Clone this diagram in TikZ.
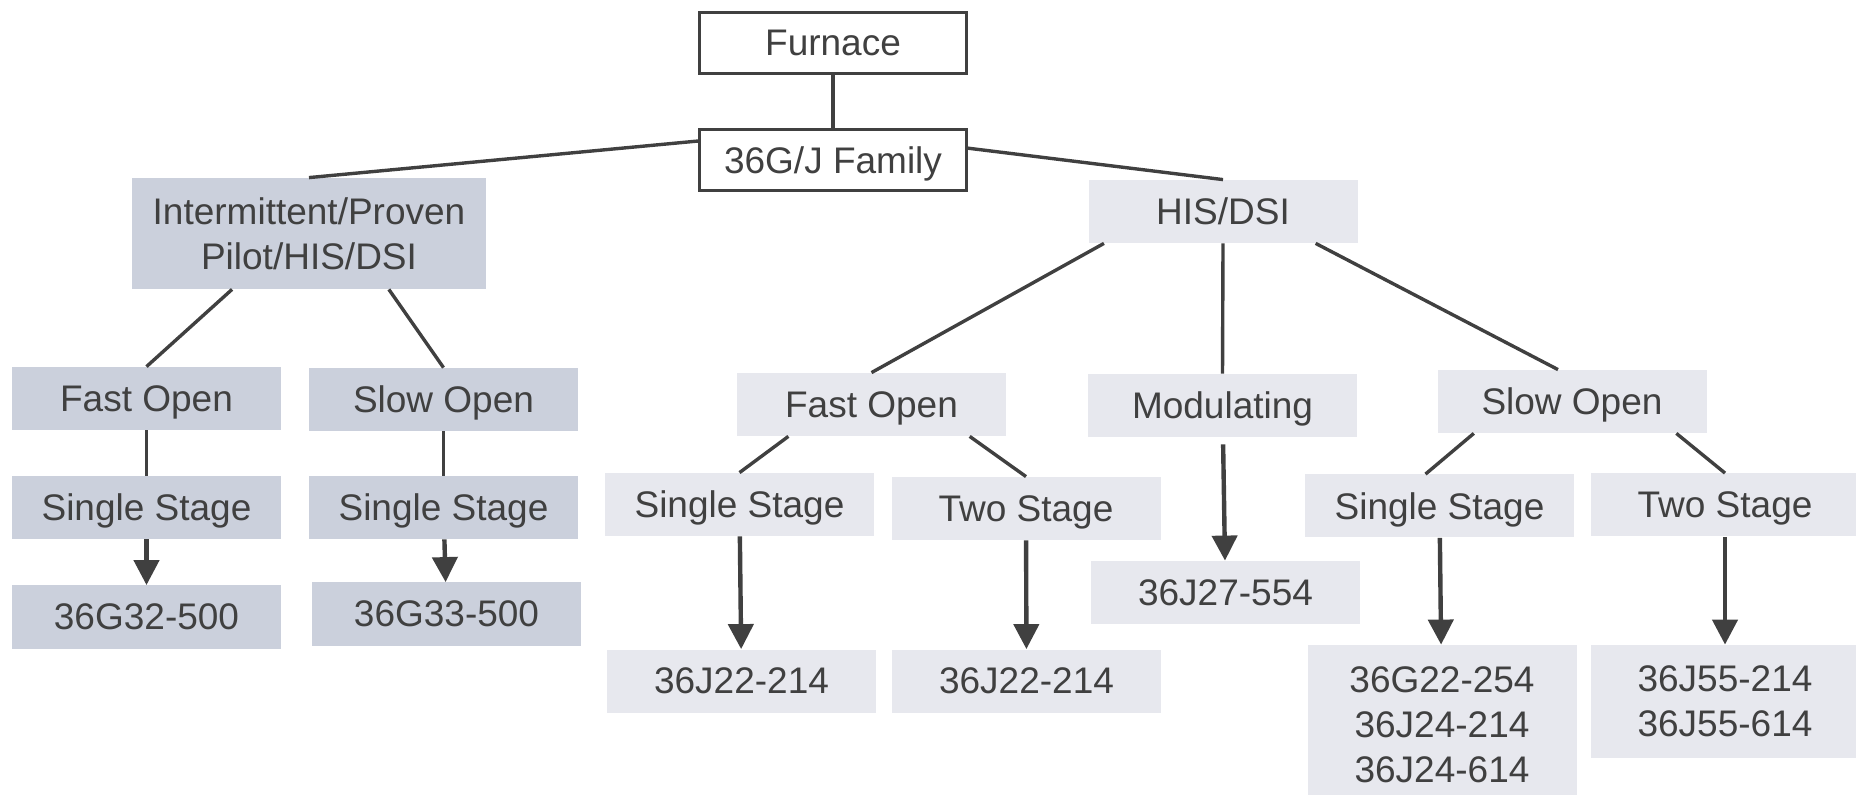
\documentclass[tikz,border=0pt]{standalone}
\usepackage{fontspec}
\setmainfont{Liberation Sans}
\usetikzlibrary{arrows.meta}
\definecolor{inkgray}{HTML}{404040}
\definecolor{pilotfill}{HTML}{CBD0DC}
\definecolor{dsifill}{HTML}{E7E8EE}

\begin{document}
\begin{tikzpicture}[x=0.5pt, y=-0.5pt, font=\fontsize{18.5}{22.5}\selectfont, text=inkgray,
		box/.style={minimum width=134.5pt, minimum height=31.5pt, inner sep=0pt, align=center, text depth=0pt},
		topbox/.style={box, draw=inkgray, line width=1.5pt, fill=white, minimum width=133.5pt, minimum height=30.5pt},
		pilotbox/.style={box, fill=pilotfill},
		dsibox/.style={box, fill=dsifill},
		link/.style={draw=inkgray, line width=1.7pt},
		flow/.style={draw=inkgray, line width=2.2pt, -{Triangle[width=12.5pt, length=12.5pt]}}]
		\useasboundingbox (0,0) rectangle (1856,795);
		\clip (0,0) rectangle (1856,795);

		\node[topbox] (furnace) at (833, 43) {Furnace};
		\node[topbox] (family) at (833, 160) {36G/J Family};
		\node[pilotbox, minimum width=177pt, minimum height=55.5pt] (pilot) at (309, 233.5) {Intermittent/Proven\\Pilot/HIS/DSI};
		\node[dsibox] (hisdsi) at (1223, 211.5) {HIS/DSI};

		\node[pilotbox] (pfast) at (146.5, 398.5) {Fast Open};
		\node[pilotbox] (pslow) at (443.5, 399.5) {Slow Open};
		\node[pilotbox] (pfastss) at (146.5, 507.5) {Single Stage};
		\node[pilotbox] (pslowss) at (443.5, 507.5) {Single Stage};
		\node[pilotbox] (g32) at (146.5, 617) {36G32-500};
		\node[pilotbox] (g33) at (446.5, 614) {36G33-500};

		\node[dsibox] (dfast) at (871.5, 404.5) {Fast Open};
		\node[dsibox] (dmod) at (1222.5, 405.5) {Modulating};
		\node[dsibox] (dslow) at (1572, 401.5) {Slow Open};
		\node[dsibox] (dfastss) at (739.5, 504.5) {Single Stage};
		\node[dsibox] (dfastts) at (1026, 508.5) {Two Stage};
		\node[dsibox] (dslowss) at (1439.5, 506) {Single Stage};
		\node[dsibox] (dslowts) at (1725, 505) {Two Stage};
		\node[dsibox] (j22a) at (741.5, 681) {36J22-214};
		\node[dsibox] (j22b) at (1026.5, 681) {36J22-214};
		\node[dsibox] (j27) at (1225.5, 592.5) {36J27-554};
		\node[dsibox, minimum height=80pt] (g22) at (1442, 725) {36G22-254\\36J24-214\\36J24-614};
		\node[dsibox, minimum height=56.5pt] (j55) at (1725, 701.5) {36J55-214\\36J55-614};

		\path (furnace) edge[link] (family)
		(family.172) edge[link] (pilot.north)
		(family.5) edge[link] (hisdsi.north)
		(pilot.216) edge[link] (pfast.north)
		(pilot.-35) edge[link] (pslow.north)
		(pfast) edge[link] (pfastss)
		(pslow) edge[link] (pslowss)
		(hisdsi.195) edge[link] (dfast.north)
		(hisdsi.south) edge[link] (dmod.north)
		(hisdsi.-19.5) edge[link] ([xshift=-7pt]dslow.north)
		(dfast.201) edge[link] (dfastss.north)
		(dfast.-18.6) edge[link] (dfastts.north)
		(dslow.198.3) edge[link] ([xshift=-7pt]dslowss.north)
		(dslow.-17.6) edge[link] (dslowts.north);

		\path (pfastss) edge[flow] (g32)
		(pslowss) edge[flow] (g33)
		(dfastss) edge[flow] (j22a)
		(dfastts) edge[flow] (j22b)
		(dmod) edge[flow, shorten <=3.5pt] (j27)
		(dslowss) edge[flow] (g22)
		(dslowts) edge[flow] (j55);
	\end{tikzpicture}
\end{document}
